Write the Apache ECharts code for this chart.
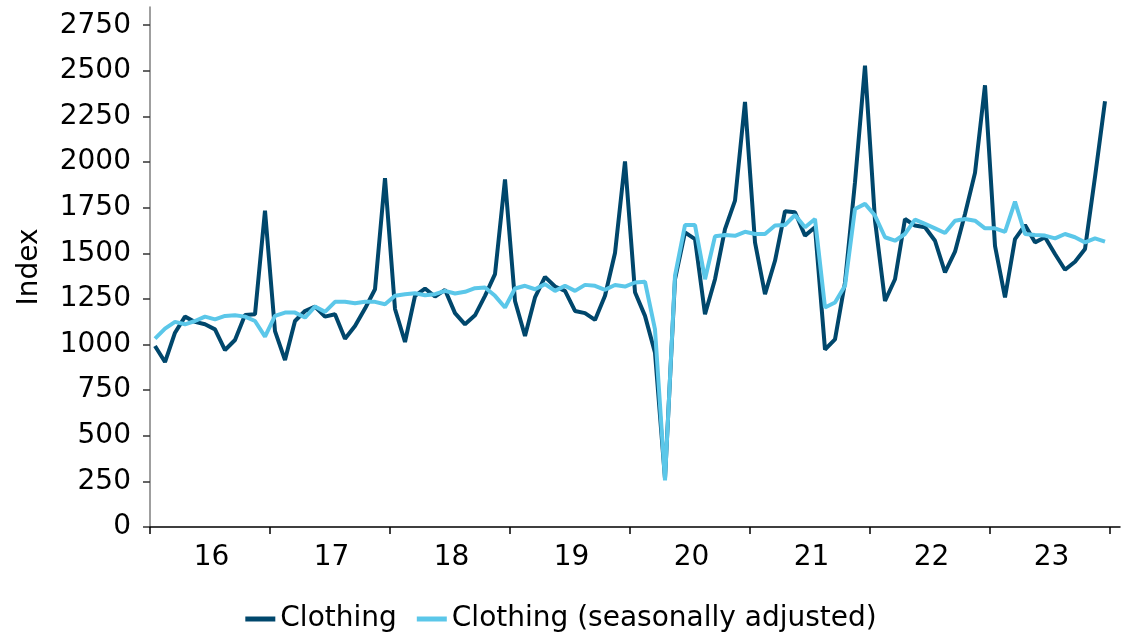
<!DOCTYPE html>
<html>
<head>
<meta charset="utf-8">
<script src="https://cdn.jsdelivr.net/npm/echarts@6/dist/echarts.min.js"></script>
<style>
  html, body { margin: 0; padding: 0; background: #fff; }
  #chart { width: 1122px; height: 635px; }
</style>
</head>
<body>
<div id="chart"></div>
<script>
// Monthly index, Jan 2016 – Dec 2023
const years = ['16', '17', '18', '19', '20', '21', '22', '23'];

const clothing = [
  992, 904, 1065, 1153, 1124, 1111, 1083, 970, 1025, 1162, 1166, 1734,
  1074, 915, 1129, 1184, 1208, 1153, 1166, 1032, 1102, 1197, 1303, 1912,
  1195, 1014, 1267, 1307, 1263, 1300, 1172, 1111, 1160, 1267, 1386, 1905,
  1239, 1047, 1258, 1371, 1318, 1294, 1184, 1172, 1135, 1267, 1502, 2004,
  1287, 1157, 955, 265, 1358, 1615, 1578, 1166, 1358, 1633, 1789, 2330,
  1560, 1276, 1459, 1731, 1725, 1597, 1643, 973, 1028, 1340, 1890, 2528,
  1680, 1239, 1358, 1688, 1652, 1643, 1569, 1395, 1509, 1716, 1941, 2421,
  1541, 1258, 1578, 1655, 1560, 1588, 1496, 1410, 1454, 1524, 1918, 2334
];

const clothingSA = [
  1032, 1087, 1124, 1111, 1129, 1153, 1138, 1157, 1160, 1153, 1129, 1043,
  1157, 1175, 1175, 1148, 1208, 1179, 1234, 1234, 1226, 1234, 1234, 1221,
  1267, 1276, 1281, 1270, 1276, 1294, 1280, 1289, 1309, 1313, 1267, 1203,
  1307, 1322, 1303, 1331, 1294, 1322, 1294, 1327, 1322, 1300, 1326, 1318,
  1340, 1344, 1083, 255, 1377, 1655, 1655, 1358, 1593, 1600, 1596, 1618,
  1606, 1606, 1652, 1655, 1710, 1643, 1688, 1203, 1230, 1322, 1743, 1771,
  1707, 1588, 1569, 1606, 1685, 1661, 1637, 1611, 1679, 1688, 1679, 1637,
  1637, 1618, 1783, 1606, 1600, 1597, 1582, 1606, 1588, 1560, 1582, 1564
];

const yTicks = [0, 250, 500, 750, 1000, 1250, 1500, 1750, 2000, 2250, 2500, 2750];

// Time runs in months from Jan 2016 (0); each month is plotted at its midpoint.
const yearStarts = years.map((_, k) => k * 12).concat([96]);
const yearMids = years.map((_, k) => k * 12 + 6);
const toPoints = (arr) => arr.map((v, i) => [i + 0.5, v]);

const FONT = 'DejaVu Sans';

const chart = echarts.init(document.getElementById('chart'), null, { renderer: 'canvas' });
chart.setOption({
  animation: false,
  textStyle: { fontFamily: FONT },
  grid: { left: 150, right: 2, top: 7, bottom: 108 },
  legend: {
    left: 'center',
    top: 600,
    itemWidth: 30,
    itemHeight: 5,
    itemGap: 20,
    icon: 'rect',
    textStyle: { fontFamily: FONT, fontSize: 28, color: '#000' },
    data: ['Clothing', 'Clothing (seasonally adjusted)']
  },
  xAxis: {
    type: 'value',
    min: 0,
    max: 97,
    axisLine: { show: true, onZero: false, lineStyle: { color: '#000', width: 1.5 } },
    axisTick: {
      show: true,
      length: 7,
      customValues: yearStarts,
      lineStyle: { color: '#000', width: 1.5 }
    },
    axisLabel: {
      customValues: yearMids,
      formatter: (v) => years[Math.round((v - 6) / 12)],
      fontFamily: FONT,
      fontSize: 28,
      color: '#000',
      margin: 17,
      padding: [0, 0, 0, 3]
    },
    splitLine: { show: false }
  },
  yAxis: {
    type: 'value',
    min: 0,
    max: 2850,
    interval: 250,
    name: 'Index',
    nameLocation: 'middle',
    nameGap: 106,
    nameRotate: 90,
    nameTextStyle: { fontFamily: FONT, fontSize: 28, color: '#000' },
    axisLine: { show: true, lineStyle: { color: '#7f7f7f', width: 1.5 } },
    axisTick: { show: true, length: 7, customValues: yTicks, lineStyle: { color: '#333', width: 1.5 } },
    axisLabel: {
      customValues: yTicks,
      formatter: (v) => (v > 2750 ? '' : String(v)),
      fontFamily: FONT,
      fontSize: 28,
      color: '#000',
      margin: 19
    },
    splitLine: { show: false }
  },
  series: [
    {
      name: 'Clothing',
      type: 'line',
      data: toPoints(clothing),
      symbol: 'none',
      lineStyle: { color: '#00476C', width: 4 },
      itemStyle: { color: '#00476C' },
      z: 2
    },
    {
      name: 'Clothing (seasonally adjusted)',
      type: 'line',
      data: toPoints(clothingSA),
      symbol: 'none',
      lineStyle: { color: '#5BC7E9', width: 4 },
      itemStyle: { color: '#5BC7E9' },
      z: 3
    }
  ]
});
</script>
</body>
</html>
